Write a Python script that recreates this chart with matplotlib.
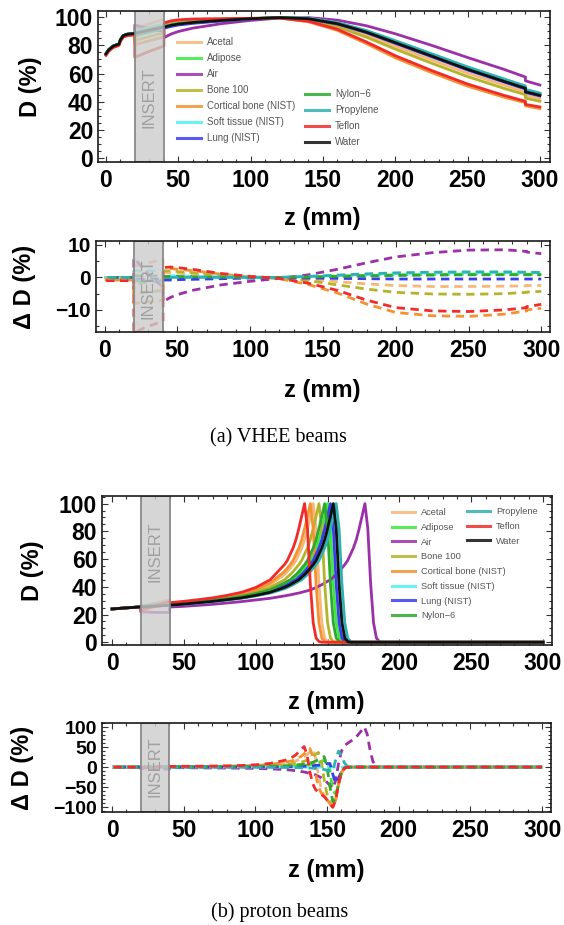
import matplotlib
matplotlib.use("Agg")
import matplotlib.pyplot as plt
from matplotlib.patches import Rectangle
from matplotlib.lines import Line2D
from matplotlib.ticker import MultipleLocator
import numpy as np

plt.rcParams['font.family'] = ['Liberation Sans', 'DejaVu Sans']

W, H = 564, 925

materials = ["Acetal", "Adipose", "Air", "Bone 100", "Cortical bone (NIST)",
             "Soft tissue (NIST)", "Lung (NIST)", "Nylon\u22126", "Propylene",
             "Teflon", "Water"]
colors = ["#f6b878", "#3de83d", "#9b30a8", "#b4b42a", "#f39232",
          "#4ef2f2", "#3b3bf0", "#2ea82e", "#2fb1b1", "#f22a2a", "#111111"]

# ---- VHEE beams: depth grid, water dose, and dose difference per insert material
vhee_z = [0, 2, 5, 9, 10, 12, 15, 20, 20, 30, 40, 40, 45, 50, 60, 80, 100, 120,
          140, 160, 180, 200, 225, 250, 275, 290, 290, 300]
vhee_water = [74, 77, 79.5, 81, 84, 87, 88, 88.5, 88.5, 90.8, 93, 93, 94.3, 95.2,
              96.3, 97.8, 99, 99.8, 99, 95.5, 89.5, 82, 72.5, 63, 54.5, 49.5, 47, 44.5]

vhee_dd_acetal = [0, 0, 0, 0, 0, 0, 0, 0, 3.5, 4.5, 5.5, 1.5, 1.5, 1.3, 1, 0.5, 0.1,
                  -0.1, -0.6, -1.3, -2, -2.5, -2.8, -2.8, -2.7, -2.6, -2.5, -2.5]
vhee_dd_adipose = [0, 0, 0, 0, 0, 0, 0, 0, -2, -1.5, -1, -0.3, -0.3, -0.2, -0.1, 0, 0,
                   0, 0.2, 0.4, 0.6, 0.8, 0.9, 1, 1, 1, 1, 1]
vhee_dd_air = [0, 0, 0, 0, 0, 0, 0, 0, 6, 1, -3, -7.5, -6.2, -5.3, -4, -2.3, -1.2,
               -0.3, 0.8, 2.5, 4.5, 6.3, 7.6, 8.4, 8.5, 8, 7.8, 7.3]
vhee_dd_bone = [0, 0, 0, 0, 0, 0, 0, 0, -5, -4.5, -4, 2, 2, 1.8, 1.5, 0.8, 0.2,
                -0.2, -1, -2.3, -3.6, -4.6, -5.1, -5.2, -5, -4.6, -4.5, -4.3]
vhee_dd_cortical = [-0.8, -0.8, -0.8, -0.8, -0.8, -0.8, -0.8, -0.8, -8, -7.5, -7,
                    2.5, 2.7, 2.5, 2.1, 1, 0.2, -0.4, -2.2, -4.8, -8.2, -10.8, -11.8,
                    -12, -11.3, -10.3, -10, -9.5]
vhee_dd_soft = [0, 0, 0, 0, 0, 0, 0, 0, 2, 2, 2, 0.5, 0.5, 0.4, 0.3, 0.2, 0.1,
                0, 0.3, 0.6, 0.9, 1.2, 1.4, 1.5, 1.5, 1.5, 1.5, 1.5]
vhee_dd_lung = [0, 0, 0, 0, 0, 0, 0, 0, -0.5, -0.5, -0.5, -0.8, -0.8, -0.7, -0.6,
                -0.4, -0.2, -0.1, -0.2, -0.3, -0.4, -0.5, -0.5, -0.5, -0.5, -0.5,
                -0.5, -0.5]
vhee_dd_nylon = [0, 0, 0, 0, 0, 0, 0, 0, 0.5, 0.5, 0.5, 0.3, 0.3, 0.3, 0.2, 0.1, 0,
                 0, 0.1, 0.3, 0.5, 0.6, 0.7, 0.8, 0.8, 0.8, 0.8, 0.8]
vhee_dd_propylene = [0, 0, 0, 0, 0, 0, 0, 0, -1, -1, -1, 0, 0, 0, 0, 0, 0,
                     0, 0.3, 0.7, 1.1, 1.4, 1.6, 1.7, 1.7, 1.6, 1.6, 1.5]
vhee_dd_teflon = [-1, -1, -1, -1, -1, -1, -1, -1, -17, -15, -13.5, 3, 3.2, 3, 2.5,
                  1.2, 0.3, -0.3, -1.8, -4, -7, -9.3, -10.3, -10.5, -10, -9.3, -9, -8.3]

# ---- proton beams: depth grid and dose per insert material
proton_z = [0, 10, 20, 20, 30, 40, 40, 50, 60, 70, 80, 90, 100, 110,
            120, 122, 124, 126, 128, 130, 132, 134, 136, 138, 140, 142, 144, 146,
            148, 150, 152, 154, 156, 158, 160, 162, 164, 166, 168, 170, 172, 174,
            176, 178, 180, 182, 184, 186, 188, 200, 300]

proton_water = [24, 24.8, 25.5, 25.5, 26, 26.7, 26.7, 27.5, 28.5, 29.5, 30.7, 32, 33.8, 36,
                39.5, 40.5, 41.5, 42.7, 44, 45, 47, 48.8, 51, 53.5, 56, 59, 63.5, 68,
                74, 82, 91, 100, 82, 42, 14, 3, 0.5, 0, 0, 0, 0, 0,
                0, 0, 0, 0, 0, 0, 0, 0, 0]
proton_acetal = [24, 24.8, 25.5, 26, 28, 30.5, 27.9, 28.9, 30, 31.2, 32.7, 34.6, 37.1, 41.5,
                 48.8, 51, 53.5, 56, 59, 63.5, 68, 74, 82, 91, 100, 82, 42, 14,
                 3, 0.5, 0, 0, 0, 0, 0, 0, 0, 0, 0, 0, 0, 0,
                 0, 0, 0, 0, 0, 0, 0, 0, 0]
proton_adipose = [24, 24.8, 25.5, 25, 26, 27, 27.0, 27.9, 28.9, 30, 31.2, 32.7, 34.6, 37.1,
                  41.5, 42.7, 44, 45, 47, 48.8, 51, 53.5, 56, 59, 63.5, 68, 74, 82,
                  91, 100, 82, 42, 14, 3, 0.5, 0, 0, 0, 0, 0, 0, 0,
                  0, 0, 0, 0, 0, 0, 0, 0, 0]
proton_air = [24, 24.8, 25.5, 22, 21.5, 21.5, 25.4, 25.9, 26.6, 27.35, 28.3, 29.3, 30.5, 31.7,
              33.4, 33.8, 34.2, 34.6, 35.1, 35.5, 36, 36.6, 37.1, 37.8, 38.6, 39.5, 40.5, 41.5,
              42.7, 44, 45, 47, 48.8, 51, 53.5, 56, 59, 63.5, 68, 74, 82, 91,
              100, 82, 42, 14, 3, 0.5, 0, 0, 0]
proton_bone = [24, 24.8, 25.5, 24.5, 26.5, 28.5, 27.5, 28.5, 29.5, 30.7, 32, 33.8, 36, 39.5,
               45, 47, 48.8, 51, 53.5, 56, 59, 63.5, 68, 74, 82, 91, 100, 82,
               42, 14, 3, 0.5, 0, 0, 0, 0, 0, 0, 0, 0, 0, 0,
               0, 0, 0, 0, 0, 0, 0, 0, 0]
proton_cortical = [24, 24.8, 25.5, 24, 26.5, 29, 28.1, 29.1, 30.2, 31.5, 33.1, 35.1, 37.8, 42.7,
                   51, 53.5, 56, 59, 63.5, 68, 74, 82, 91, 100, 82, 42, 14, 3,
                   0.5, 0, 0, 0, 0, 0, 0, 0, 0, 0, 0, 0, 0, 0,
                   0, 0, 0, 0, 0, 0, 0, 0, 0]
proton_soft = [24, 24.8, 25.5, 25.5, 26.2, 27, 26.7, 27.5, 28.5, 29.5, 30.7, 32, 33.8, 36,
               39.5, 40.5, 41.5, 42.7, 44, 45, 47, 48.8, 51, 53.5, 56, 59, 63.5, 68,
               74, 82, 91, 100, 82, 42, 14, 3, 0.5, 0, 0, 0, 0, 0,
               0, 0, 0, 0, 0, 0, 0, 0, 0]
proton_lung = [24, 24.8, 25.5, 25.5, 26, 26.8, 26.85, 27.7, 28.7, 29.75, 30.95, 32.35, 34.2, 36.6,
               40.5, 41.5, 42.7, 44, 45, 47, 48.8, 51, 53.5, 56, 59, 63.5, 68, 74,
               82, 91, 100, 82, 42, 14, 3, 0.5, 0, 0, 0, 0, 0, 0,
               0, 0, 0, 0, 0, 0, 0, 0, 0]
proton_nylon = [24, 24.8, 25.5, 25.5, 26.5, 27.5, 27.2, 28.1, 29.1, 30.2, 31.5, 33.1, 35.1, 37.8,
                42.7, 44, 45, 47, 48.8, 51, 53.5, 56, 59, 63.5, 68, 74, 82, 91,
                100, 82, 42, 14, 3, 0.5, 0, 0, 0, 0, 0, 0, 0, 0,
                0, 0, 0, 0, 0, 0, 0, 0, 0]
proton_propylene = [24, 24.8, 25.5, 26, 27, 28, 26.6, 27.35, 28.3, 29.3, 30.5, 31.7, 33.4, 35.5,
                    38.6, 39.5, 40.5, 41.5, 42.7, 44, 45, 47, 48.8, 51, 53.5, 56, 59, 63.5,
                    68, 74, 82, 91, 100, 82, 42, 14, 3, 0.5, 0, 0, 0, 0,
                    0, 0, 0, 0, 0, 0, 0, 0, 0]
proton_teflon = [24, 24.8, 25.5, 23, 26, 29.5, 28.5, 29.5, 30.7, 32, 33.8, 36, 39.5, 45,
                 56, 59, 63.5, 68, 74, 82, 91, 100, 82, 42, 14, 3, 0.5, 0,
                 0, 0, 0, 0, 0, 0, 0, 0, 0, 0, 0, 0, 0, 0,
                 0, 0, 0, 0, 0, 0, 0, 0, 0]

vhee_dd = [vhee_dd_acetal, vhee_dd_adipose, vhee_dd_air, vhee_dd_bone, vhee_dd_cortical,
           vhee_dd_soft, vhee_dd_lung, vhee_dd_nylon, vhee_dd_propylene, vhee_dd_teflon]
proton_dose = [proton_acetal, proton_adipose, proton_air, proton_bone, proton_cortical,
               proton_soft, proton_lung, proton_nylon, proton_propylene, proton_teflon]


def box(l, r, t, b):
    # pixel edges -> figure fraction rect
    return [l / W, 1 - b / H, (r - l) / W, (b - t) / H]


def style(ax, xlim, ylim, yticks, yminor, ysize):
    ax.set_xlim(*xlim)
    ax.set_ylim(*ylim)
    ax.set_xticks(range(0, 301, 50))
    ax.xaxis.set_minor_locator(MultipleLocator(10))
    ax.set_yticks(yticks)
    ax.yaxis.set_minor_locator(MultipleLocator(yminor))
    ax.tick_params(which='both', direction='in', top=True, right=True,
                   width=0.8, color='#333333')
    ax.tick_params(which='major', length=4)
    ax.tick_params(which='minor', length=2)
    ax.tick_params(axis='x', labelsize=16.5, pad=5)
    ax.tick_params(axis='y', labelsize=ysize, pad=3.5)
    for lab in ax.get_xticklabels() + ax.get_yticklabels():
        lab.set_fontweight('bold')
    for s in ax.spines.values():
        s.set_linewidth(1.2)
        s.set_color('#1a1a1a')
        s.set_zorder(6)


def insert(ax, ylim, ytext):
    ax.add_patch(Rectangle((20, ylim[0]), 20, ylim[1] - ylim[0],
                           facecolor=(0.8, 0.8, 0.8, 0.8), edgecolor='#8a8a8a',
                           lw=1.3, zorder=3))
    ax.text(30, ytext, "INSERT", rotation=90, ha='center', va='center',
            color='#a0a0a0', fontsize=12, zorder=4)


fig = plt.figure(figsize=(W / 100, H / 100), dpi=100)

# (a) VHEE dose
ax1 = fig.add_axes(box(98, 550, 11, 162))
water_v = np.array(vhee_water)
for dd, c in zip(vhee_dd, colors[:-1]):
    ax1.plot(vhee_z, water_v + np.array(dd), color=c, lw=2, zorder=2)
ax1.plot(vhee_z, water_v, color=colors[-1], lw=2, zorder=2)
style(ax1, (-5.5, 307), (-3, 104.5), range(0, 101, 20), 5, 16.5)
insert(ax1, (-3, 104.5), 43)

# (a) VHEE dose difference
ax2 = fig.add_axes(box(96, 550, 241, 332))
for i, (dd, c) in enumerate(zip(vhee_dd, colors[:-1])):
    ax2.plot(vhee_z, dd, color=c, lw=2, linestyle=(i * 0.5, (3, 2)),
             dash_capstyle='butt', zorder=2)
style(ax2, (-6, 306), (-16.8, 11.2), [-10, 0, 10], 5, 15)
insert(ax2, (-16.8, 11.2), -3.5)

# (b) proton dose
ax3 = fig.add_axes(box(102, 552, 496, 645))
for d, c in zip(proton_dose, colors[:-1]):
    ax3.plot(proton_z, d, color=c, lw=2, zorder=2)
ax3.plot(proton_z, proton_water, color=colors[-1], lw=2, zorder=2)
style(ax3, (-7, 306.2), (-2, 105.5), range(0, 101, 20), 5, 16.5)
insert(ax3, (-2, 105.5), 65)

# (b) proton dose difference
ax4 = fig.add_axes(box(102, 551, 723, 812))
water_p = np.array(proton_water)
for i, (d, c) in enumerate(zip(proton_dose, colors[:-1])):
    ax4.plot(proton_z, np.array(d) - water_p, color=c, lw=2,
             linestyle=(i * 0.5, (3, 2)), dash_capstyle='butt', zorder=2)
style(ax4, (-7, 306.2), (-112, 110), [-100, -50, 0, 50, 100], 10, 14)
insert(ax4, (-112, 110), 0)

# legends, split into two columns each
handles = [Line2D([], [], color=c, lw=2.2, alpha=0.85) for c in colors]
leg_kw = dict(loc='upper left', frameon=False, handlelength=2.5,
              handletextpad=0.6, labelspacing=0.62, borderpad=0, borderaxespad=0,
              labelcolor='#555555')
fig.legend(handles[:7], materials[:7], bbox_to_anchor=(177 / W, 1 - 37 / H),
           fontsize=7, **leg_kw)
fig.legend(handles[7:], materials[7:], bbox_to_anchor=(305 / W, 1 - 89 / H),
           fontsize=7, **leg_kw)
fig.legend(handles[:8], materials[:8], bbox_to_anchor=(392 / W, 1 - 508 / H),
           fontsize=6.7, **leg_kw)
fig.legend(handles[8:], materials[8:], bbox_to_anchor=(467 / W, 1 - 507 / H),
           fontsize=6.7, **leg_kw)

lab_kw = dict(fontsize=17, fontweight='bold', ha='center', va='center')
fig.text(322 / W, 1 - 218 / H, "z (mm)", **lab_kw)
fig.text(322 / W, 1 - 390 / H, "z (mm)", **lab_kw)
fig.text(326 / W, 1 - 703 / H, "z (mm)", **lab_kw)
fig.text(326 / W, 1 - 870 / H, "z (mm)", **lab_kw)
fig.text(30 / W, 1 - 86.5 / H, "D (%)", rotation=90, **lab_kw)
fig.text(25 / W, 1 - 286.5 / H, "\u0394 D (%)", rotation=90, **lab_kw)
fig.text(32 / W, 1 - 570.5 / H, "D (%)", rotation=90, **lab_kw)
fig.text(23 / W, 1 - 767.5 / H, "\u0394 D (%)", rotation=90, **lab_kw)

cap_kw = dict(fontsize=14.5, family='Liberation Serif', ha='center', va='center')
fig.text(278 / W, 1 - 438 / H, "(a) VHEE beams", **cap_kw)
fig.text(280 / W, 1 - 912 / H, "(b) proton beams", **cap_kw)

fig.savefig("out.png", dpi=100)
